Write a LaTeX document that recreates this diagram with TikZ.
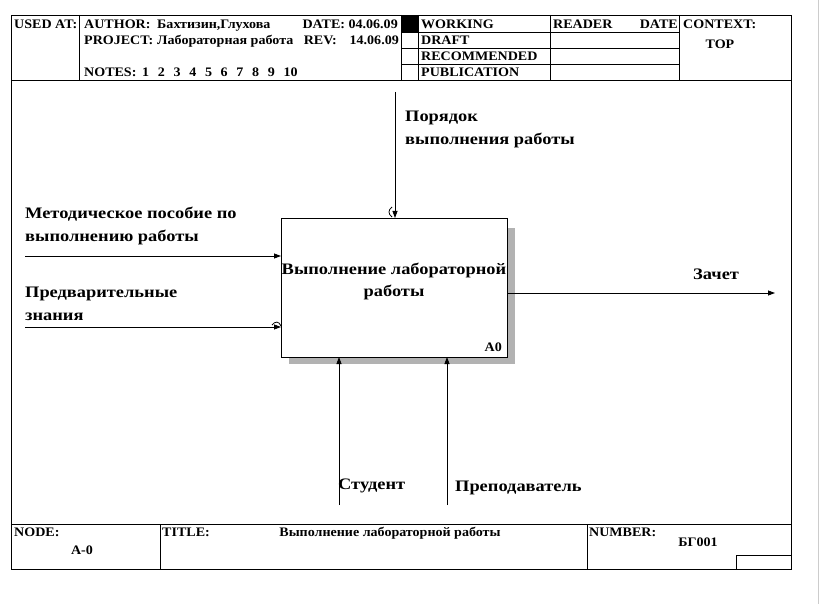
\documentclass[tikz,border=0pt]{standalone}
\usepackage{fontspec}
\setmainfont{Liberation Serif}
\newfontfamily\lblfont[FakeStretch=1.15]{Liberation Serif}
\newfontfamily\hdrfont[FakeStretch=1.08]{Liberation Serif}
\usetikzlibrary{arrows.meta}

\begin{document}
\begin{tikzpicture}[x=1pt,y=-1pt,
  frm/.style={line width=0.8pt},
  arr/.style={-{Triangle[length=7pt,width=5pt]}, line width=0.8pt},
  lbl/.style={anchor=base west, inner sep=0pt, align=left,
    font=\lblfont\fontsize{16}{23}\selectfont\bfseries},
  hdr/.style={anchor=base west, inner sep=0pt,
    font=\hdrfont\fontsize{13}{14}\selectfont\bfseries}]
\useasboundingbox (0,0) rectangle (820,604);
\draw[gray!40] (818,0) -- (818,604);

% frame, header and footer
\draw[frm] (11,15) rectangle (791,569);
\draw[frm] (11,80) -- (791,80);
\draw[frm] (11,524) -- (791,524);
\foreach \x in {79,401,418,550,679}
    \draw[frm] (\x,15) -- (\x,80);
\foreach \y in {32,48,64}
    \draw[frm] (401,\y) -- (679,\y);
\fill (401,15) rectangle (418,32);
\foreach \x in {160,587}
    \draw[frm] (\x,524) -- (\x,569);
\draw[frm] (736,569) |- (791,555);

\node[hdr] (usedat) at (14,29) {USED AT:};
\node[hdr] (author) at (84,29) {AUTHOR:};
\node[hdr] (names) at (157,29) {Бахтизин,Глухова};
\node[hdr, anchor=base east] (date) at (398,29) {DATE: 04.06.09};
\node[hdr] (project) at (84,44.5) {PROJECT:};
\node[hdr] (projname) at (157,44.5) {Лабораторная работа};
\node[hdr, anchor=base east] (rev) at (337,44.5) {REV:};
\node[hdr, anchor=base east] (revdate) at (399,44.5) {14.06.09};
\node[hdr] (notes) at (84,76.5) {NOTES:};
\foreach \i in {1,...,10}
    \node[hdr] (note-\i) at ({142+15.7*(\i-1)},76.5) {\i};
\foreach \t/\y in {WORKING/29,DRAFT/44.5,RECOMMENDED/60.5,PUBLICATION/76.5}
    \node[hdr] (st-\t) at (421,\y) {\t};
\node[hdr] (reader) at (553,29) {READER};
\node[hdr, anchor=base east] (rdate) at (678,29) {DATE};
\node[hdr] (context) at (683,29) {CONTEXT:};
\node[hdr, anchor=base] (top) at (720,49) {TOP};

\node[hdr] (nodelbl) at (14,536) {NODE:};
\node[hdr, anchor=base] (nodenum) at (82,554) {A-0};
\node[hdr] (titlelbl) at (162,536) {TITLE:};
\node[hdr, anchor=base] (title) at (390,536) {Выполнение лабораторной работы};
\node[hdr] (numlbl) at (589,536) {NUMBER:};
\node[hdr, anchor=base] (num) at (698,546) {БГ001};

% activity box with shadow
\fill[gray!60] (289,228) rectangle (515,364);
\node[draw, frm, fill=white, minimum width=226pt, minimum height=139pt,
  inner sep=0pt, outer sep=0pt] (box) at (394,287.5) {};
\node[anchor=base, inner sep=0pt, align=center,
  font=\lblfont\fontsize{16}{22}\selectfont\bfseries] (boxtxt) at (394,297)
  {Выполнение лабораторной\\работы};
\node[hdr, anchor=base east] (boxnum) at (502,352) {A0};

% inputs
\coordinate (in1) at (25,256);
\coordinate (in2) at (25,327);
\draw[arr] (in1) -- (in1 -| box.west);
\draw[arr] (in2) -- (in2 -| box.west);
\draw[frm] (272,325) .. controls (275,321) and (279,321) .. (281,326);
\node[lbl] (in1txt) at (25,242) {Методическое пособие по\\выполнению работы};
\node[lbl] (in2txt) at (25,320) {Предварительные\\знания};

% control
\coordinate (ctl) at (395,92);
\draw[arr] (ctl) -- (ctl |- box.north);
\draw[frm] (392,207) .. controls (388,210) and (388,214) .. (392,217);
\node[lbl] (ctltxt) at (405,145) {Порядок\\выполнения работы};

% output
\coordinate (out) at (775,293);
\draw[arr] (out -| box.east) -- (out);
\node[lbl] (outtxt) at (693,280) {Зачет};

% mechanisms
\coordinate (mech1) at (339,505);
\coordinate (mech2) at (447,505);
\draw[arr] (mech1) -- (mech1 |- box.south);
\draw[arr] (mech2) -- (mech2 |- box.south);
\node[lbl] (mech1txt) at (338,489) {Студент};
\node[lbl] (mech2txt) at (455,491) {Преподаватель};
\end{tikzpicture}
\end{document}
